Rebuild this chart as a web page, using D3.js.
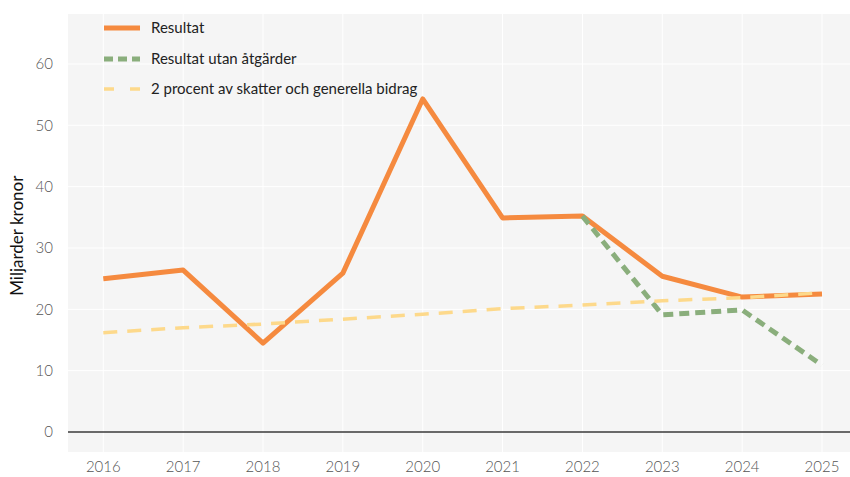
<!DOCTYPE html>
<html>
<head>
<meta charset="utf-8">
<script src="https://cdn.jsdelivr.net/npm/d3@7"></script>
<style>
  body { margin: 0; background: #fff; }
  text { font-family: Lato, "Open Sans", sans-serif; }
</style>
</head>
<body>
<div id="chart"></div>
<script>
var years = [2016, 2017, 2018, 2019, 2020, 2021, 2022, 2023, 2024, 2025]
var resultat = [25.0, 26.4, 14.5, 25.9, 54.3, 34.9, 35.2, 25.4, 22.0, 22.5]
var utanYears = [2022, 2023, 2024, 2025]
var utanAtgarder = [35.2, 19.1, 19.9, 10.9]
var tvaProcent = [16.2, 17.0, 17.6, 18.4, 19.2, 20.1, 20.7, 21.4, 21.9, 22.7]
var yTicks = [0, 10, 20, 30, 40, 50, 60]
var legendNames = ["Resultat", "Resultat utan åtgärder", "2 procent av skatter och generella bidrag"]

var outerWidth = 850, outerHeight = 477
var plot = {left: 68, top: 14, right: 850, bottom: 452}

var svg = d3.select("#chart").append("svg")
    .attr("width", outerWidth)
    .attr("height", outerHeight)

svg.append("rect")
    .attr("x", plot.left)
    .attr("y", plot.top)
    .attr("width", plot.right - plot.left)
    .attr("height", plot.bottom - plot.top)
    .attr("fill", "#f5f5f5")

var xScale = d3.scaleLinear().domain([2016, 2025]).range([103.3, 822])
var yScale = d3.scaleLinear().domain([-3.26, 68.15]).range([plot.bottom, plot.top])

// gridlines
svg.selectAll(".vgrid")
    .data(years)
    .enter()
    .append("line")
    .attr("x1", d => xScale(d)).attr("x2", d => xScale(d))
    .attr("y1", plot.top).attr("y2", plot.bottom)
    .style("stroke", "#ffffff")
    .style("stroke-width", 1)

svg.selectAll(".hgrid")
    .data(yTicks.filter(d => d != 0))
    .enter()
    .append("line")
    .attr("x1", plot.left).attr("x2", plot.right)
    .attr("y1", d => yScale(d)).attr("y2", d => yScale(d))
    .style("stroke", "#ffffff")
    .style("stroke-width", 1)

// zero line
svg.append("line")
    .attr("x1", plot.left).attr("x2", plot.right)
    .attr("y1", yScale(0)).attr("y2", yScale(0))
    .style("stroke", "#3a3a3a")
    .style("stroke-width", 1.5)

// tick labels
svg.selectAll(".ylab")
    .data(yTicks)
    .enter()
    .append("text")
    .attr("x", 53)
    .attr("y", d => yScale(d))
    .attr("dy", "0.35em")
    .attr("text-anchor", "end")
    .attr("fill", "#555")
    .attr("font-size", "15px")
    .attr("font-weight", 300)
    .text(d => d)

svg.selectAll(".xlab")
    .data(years)
    .enter()
    .append("text")
    .attr("x", d => xScale(d))
    .attr("y", 472)
    .attr("text-anchor", "middle")
    .attr("fill", "#555")
    .attr("font-size", "15px")
    .attr("font-weight", 300)
    .text(d => d)

svg.append("text")
    .attr("transform", "translate(23," + yScale(32) + ") rotate(-90)")
    .attr("text-anchor", "middle")
    .attr("fill", "#111")
    .attr("font-size", "17px")
    .text("Miljarder kronor")

var line = d3.line()
    .x(d => xScale(d[0]))
    .y(d => yScale(d[1]))

svg.append("path")
    .datum(years.map((y, i) => [y, resultat[i]]))
    .attr("d", line)
    .attr("fill", "none")
    .style("stroke", "#f58a3f")
    .style("stroke-width", 5)
    .style("stroke-linejoin", "round")

svg.append("path")
    .datum(utanYears.map((y, i) => [y, utanAtgarder[i]]))
    .attr("d", line)
    .attr("fill", "none")
    .style("stroke", "#8aae7c")
    .style("stroke-width", 5)
    .style("stroke-dasharray", "10,6")

svg.append("path")
    .datum(years.map((y, i) => [y, tvaProcent[i]]))
    .attr("d", line)
    .attr("fill", "none")
    .style("stroke", "#fdd98b")
    .style("stroke-width", 3.5)
    .style("stroke-dasharray", "14,10")

// legend
var legendStyles = [
    {color: "#f58a3f", width: 5, dash: null},
    {color: "#8aae7c", width: 5, dash: "9,5"},
    {color: "#fdd98b", width: 3.5, dash: "10,16"}
]
var legendY = [28, 59, 89]

legendNames.forEach(function(name, i) {
    svg.append("line")
        .attr("x1", 104).attr("x2", 140)
        .attr("y1", legendY[i]).attr("y2", legendY[i])
        .style("stroke", legendStyles[i].color)
        .style("stroke-width", legendStyles[i].width)
        .style("stroke-dasharray", legendStyles[i].dash)
    svg.append("text")
        .attr("x", 151)
        .attr("y", legendY[i])
        .attr("dy", "0.35em")
        .attr("fill", "#222")
        .attr("font-size", "15px")
        .text(name)
})
</script>
</body>
</html>
